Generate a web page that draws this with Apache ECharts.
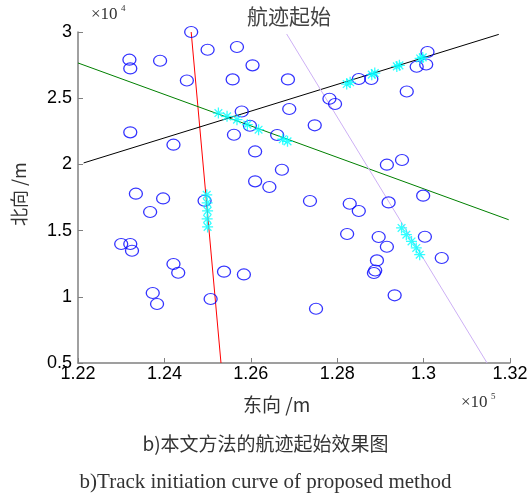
<!DOCTYPE html>
<html><head><meta charset="utf-8">
<script src="https://cdn.jsdelivr.net/npm/echarts@6/dist/echarts.min.js"></script>
<style>html,body{margin:0;padding:0;background:#fff}#c{width:531px;height:497px}</style>
</head><body><div id="c"></div>
<script>
// x in units of 1e5 m, y in units of 1e4 m
const xTicks = [1.22, 1.24, 1.26, 1.28, 1.30, 1.32];
const yTicks = [0.5, 1, 1.5, 2, 2.5, 3];
const clutterX = [1.2462,1.2500,1.2568,1.2319,1.2321,1.2390,1.2452,1.2604,1.2558,1.2579,1.2598,1.2561,1.2321,1.2421,1.2610,1.2610,1.2643,1.2334,1.2397,1.2367,1.2493,1.2300,1.2321,1.2325,1.2421,1.2432,1.2373,1.2383,1.2507,1.2538,1.2584,1.3009,1.2984,1.3006,1.2850,1.2879,1.2686,1.2961,1.2782,1.2795,1.2689,1.2748,1.2661,1.2672,1.2915,1.2950,1.2999,1.2737,1.2829,1.2850,1.2919,1.2823,1.2896,1.2915,1.3003,1.3042,1.2892,1.2888,1.2885,1.2933,1.2751];
const clutterY = [3.000,2.866,2.887,2.791,2.725,2.783,2.634,2.748,2.642,2.400,2.292,2.224,2.242,2.149,2.098,1.872,1.829,1.779,1.743,1.640,1.726,1.399,1.399,1.348,1.248,1.182,1.029,0.946,0.983,1.190,1.169,2.849,2.738,2.755,2.645,2.645,2.642,2.551,2.496,2.456,2.418,2.295,2.222,1.960,1.998,2.033,1.764,1.724,1.703,1.648,1.713,1.474,1.452,1.378,1.454,1.293,1.275,1.199,1.180,1.011,0.910];
const trackX = [1.2498,1.2499,1.2500,1.2499,1.2500,1.2525,1.2545,1.2568,1.2592,1.2618,1.2674,1.2685,1.2822,1.2830,1.2880,1.2887,1.2938,1.2944,1.2992,1.2998,1.2949,1.2960,1.2972,1.2983,1.2991];
const trackY = [1.770,1.709,1.649,1.588,1.528,2.388,2.363,2.338,2.300,2.262,2.190,2.174,2.607,2.620,2.678,2.690,2.740,2.748,2.800,2.808,1.520,1.469,1.418,1.369,1.318];
const redLine = [[1.2462,3.0],[1.2531,0.5]];
const greenLine = [[1.22,2.766],[1.3197,1.582]];
const blackLine = [[1.2213,2.011],[1.3174,2.982]];
const purpleLine = [[1.2683,2.985],[1.3147,0.5]];

const chart = echarts.init(document.getElementById('c'), null, {renderer:'canvas'});
const axisCol = '#808080';
const tickFont = {color:'#000', fontFamily:'Liberation Sans', fontSize:18};
const star = 'path://M0 5 L10 5 M5 0 L5 10 M1.5 1.5 L8.5 8.5 M8.5 1.5 L1.5 8.5';
function lineSeries(d, col, w){
  return {type:'line', data:d, symbol:'none', lineStyle:{color:col, width:w||1}, z:2, animation:false, clip:true};
}
chart.setOption({
  animation:false,
  backgroundColor:'#fff',
  grid:{left:78, right:21, top:32, bottom:134},
  xAxis:{type:'value', min:1.22, max:1.32, interval:0.02,
    axisLine:{show:true, lineStyle:{color:axisCol, width:1.5}},
    axisTick:{show:true, inside:true, length:5, lineStyle:{color:axisCol}},
    splitLine:{show:false},
    axisLabel:Object.assign({margin:2, formatter:v=>String(+v.toFixed(2))}, tickFont)},
  yAxis:{type:'value', min:0.5, max:3, interval:0.5,
    axisLine:{show:true, lineStyle:{color:axisCol, width:1.5}},
    axisTick:{show:true, inside:true, length:5, lineStyle:{color:axisCol}},
    splitLine:{show:false},
    axisLabel:Object.assign({margin:6, formatter:v=>String(+v.toFixed(1))}, tickFont)},
  series:[
    lineSeries(redLine,'#ff0000'),
    lineSeries(greenLine,'#008000'),
    lineSeries(blackLine,'#000000'),
    lineSeries(purpleLine,'#cdb0f5'),
    {type:'scatter', data:clutterX.map((x,i)=>[x,clutterY[i]]), symbol:'circle', symbolSize:[13,11],
      itemStyle:{color:'rgba(0,0,0,0)', borderColor:'#0000ff', borderWidth:1.2}, z:3},
    {type:'scatter', data:trackX.map((x,i)=>[x,trackY[i]]), symbol:star, symbolSize:11,
      itemStyle:{color:'none', borderColor:'#00ffff', borderWidth:1.3}, z:4}
  ],
  graphic:[
    {type:'text', left:91, top:6, style:{text:'×10', font:'17px "Liberation Serif"', fill:'#333'}},
    {type:'text', left:121, top:4, style:{text:'4', font:'9px "Liberation Serif"', fill:'#333'}},
    {type:'text', left:461, top:394, style:{text:'×10', font:'17px "Liberation Serif"', fill:'#333'}},
    {type:'text', left:491, top:392, style:{text:'5', font:'9px "Liberation Serif"', fill:'#333'}},
    {type:'text', left:247, top:6, style:{text:'航迹起始', font:'21px "Noto Sans CJK SC"', fill:'#444'}},
    {type:'text', left:243, top:395, style:{text:'东向 /m', font:'19px "Noto Sans CJK SC"', fill:'#333'}},
    {type:'text', x:19, y:226, rotation:Math.PI/2, style:{text:'北向 /m', font:'18px "Noto Sans CJK SC"', fill:'#333', align:'left', verticalAlign:'middle'}},
    {type:'text', left:'center', top:434, style:{text:'b)本文方法的航迹起始效果图', font:'19px "Noto Sans CJK SC"', fill:'#333'}},
    {type:'text', left:'center', top:472, style:{text:'b)Track initiation curve of proposed method', font:'21px "Liberation Serif"', fill:'#333'}}
  ]
});
</script></body></html>
